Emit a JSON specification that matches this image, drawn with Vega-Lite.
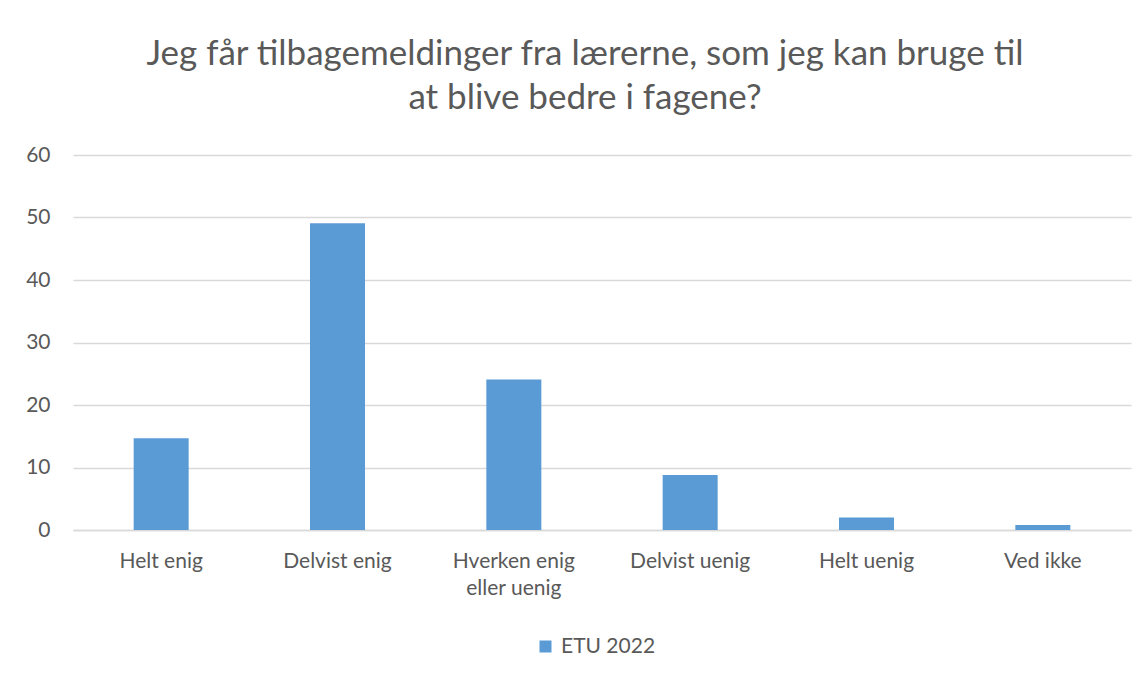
{
  "$schema": "https://vega.github.io/schema/vega-lite/v6.json",
  "width": 1058,
  "height": 375,
  "autosize": {"type": "none"},
  "padding": {"left": 73, "top": 155, "right": 16, "bottom": 145},
  "background": "white",
  "data": {
    "values": [
      {"svar": "Helt enig", "procent": 14.7, "serie": "ETU 2022"},
      {"svar": "Delvist enig", "procent": 49.1, "serie": "ETU 2022"},
      {"svar": "Hverken enig eller uenig", "procent": 24.1, "serie": "ETU 2022"},
      {"svar": "Delvist uenig", "procent": 8.8, "serie": "ETU 2022"},
      {"svar": "Helt uenig", "procent": 2.0, "serie": "ETU 2022"},
      {"svar": "Ved ikke", "procent": 0.8, "serie": "ETU 2022"}
    ]
  },
  "title": {
    "text": ["Jeg får tilbagemeldinger fra lærerne, som jeg kan bruge til", "at blive bedre i fagene?"],
    "font": "Lato",
    "fontSize": 35,
    "fontWeight": "normal",
    "color": "#595959",
    "lineHeight": 44,
    "anchor": "middle",
    "dx": -17,
    "offset": 28
  },
  "mark": {"type": "bar", "color": "#5b9bd5"},
  "encoding": {
    "x": {
      "field": "svar",
      "type": "nominal",
      "sort": null,
      "scale": {"paddingInner": 0.688, "paddingOuter": 0.344},
      "axis": {
        "title": null,
        "labelAngle": 0,
        "labelFont": "Lato",
        "labelFontSize": 21,
        "labelColor": "#595959",
        "labelPadding": 20,
        "labelLineHeight": 27,
        "labelExpr": "datum.label == 'Hverken enig eller uenig' ? ['Hverken enig', 'eller uenig'] : datum.label",
        "ticks": false,
        "domainColor": "#d9d9d9",
        "domainWidth": 1.5
      }
    },
    "y": {
      "field": "procent",
      "type": "quantitative",
      "scale": {"domain": [0, 60]},
      "axis": {
        "title": null,
        "values": [0, 10, 20, 30, 40, 50, 60],
        "labelFont": "Lato",
        "labelFontSize": 21,
        "labelColor": "#595959",
        "labelPadding": 23,
        "ticks": false,
        "domain": false,
        "gridColor": "#d9d9d9",
        "gridWidth": 1.5
      }
    },
    "color": {
      "field": "serie",
      "type": "nominal",
      "scale": {"range": ["#5b9bd5"]},
      "legend": {
        "title": null,
        "orient": "none",
        "legendX": 462,
        "legendY": 481,
        "symbolType": "square",
        "symbolSize": 144,
        "symbolStrokeWidth": 0,
        "labelFont": "Lato",
        "labelFontSize": 21,
        "labelColor": "#595959",
        "labelOffset": 5
      }
    }
  },
  "config": {"view": {"stroke": null}}
}
